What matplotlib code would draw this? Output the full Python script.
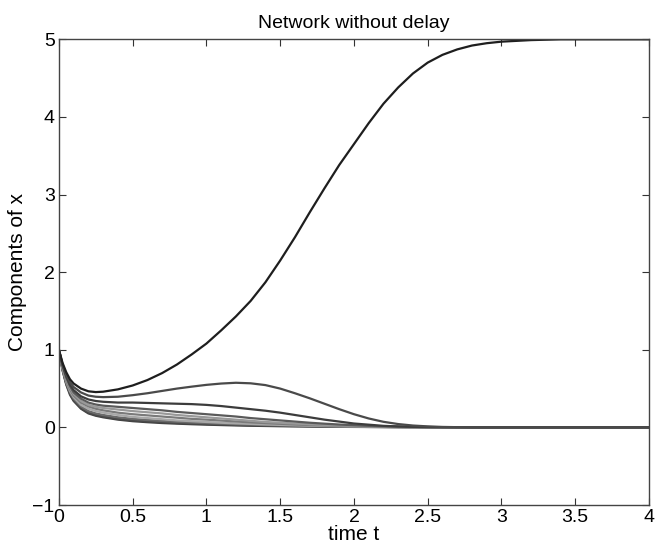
import numpy as np
import matplotlib.pyplot as plt

plt.rcParams['font.family'] = ['Liberation Sans', 'DejaVu Sans']

t = [0, 0.025, 0.05, 0.075, 0.1, 0.15, 0.2, 0.25, 0.3,
     0.4, 0.5, 0.6, 0.7, 0.8, 0.9, 1.0, 1.1, 1.2, 1.3, 1.4, 1.5, 1.6, 1.7, 1.8, 1.9,
     2.0, 2.1, 2.2, 2.3, 2.4, 2.5, 2.6, 2.7, 2.8, 2.9, 3.0,
     3.2, 3.4, 3.6, 3.8, 4.0]

x1 = [1.0, 0.83, 0.71, 0.62, 0.565, 0.50, 0.465, 0.455, 0.46,
      0.49, 0.54, 0.61, 0.70, 0.81, 0.94, 1.08, 1.25, 1.43, 1.63, 1.87, 2.15, 2.45, 2.77, 3.08, 3.38,
      3.65, 3.92, 4.17, 4.38, 4.56, 4.70, 4.80, 4.87, 4.92, 4.95, 4.97,
      4.99, 5.0, 5.0, 5.0, 5.0]
x2 = [1.0, 0.81, 0.68, 0.58, 0.52, 0.45, 0.41, 0.395, 0.39,
      0.395, 0.415, 0.44, 0.47, 0.50, 0.525, 0.548, 0.565, 0.575, 0.568, 0.545, 0.50, 0.44, 0.375, 0.305, 0.235,
      0.17, 0.115, 0.072, 0.043, 0.024, 0.013, 0.006, 0.003, 0.001, 0.0, 0.0,
      0.0, 0.0, 0.0, 0.0, 0.0]
x3 = [1.0, 0.80, 0.66, 0.55, 0.48, 0.40, 0.36, 0.34, 0.33,
      0.32, 0.32, 0.315, 0.31, 0.305, 0.30, 0.29, 0.275, 0.255, 0.235, 0.215, 0.19, 0.16, 0.13, 0.10, 0.075,
      0.05, 0.035, 0.02, 0.012, 0.007, 0.004, 0.002, 0.001, 0.0, 0.0, 0.0,
      0.0, 0.0, 0.0, 0.0, 0.0]
x4 = [1.0, 0.79, 0.64, 0.53, 0.45, 0.37, 0.32, 0.295, 0.28,
      0.265, 0.25, 0.235, 0.22, 0.20, 0.185, 0.17, 0.155, 0.14, 0.12, 0.105, 0.09, 0.075, 0.06, 0.048, 0.037,
      0.028, 0.02, 0.014, 0.01, 0.007, 0.005, 0.003, 0.002, 0.001, 0.0, 0.0,
      0.0, 0.0, 0.0, 0.0, 0.0]
x5 = [1.0, 0.78, 0.62, 0.51, 0.43, 0.34, 0.29, 0.265, 0.25,
      0.23, 0.21, 0.195, 0.18, 0.16, 0.145, 0.13, 0.115, 0.10, 0.085, 0.07, 0.06, 0.05, 0.04, 0.032, 0.025,
      0.02, 0.015, 0.011, 0.008, 0.006, 0.004, 0.003, 0.002, 0.001, 0.0, 0.0,
      0.0, 0.0, 0.0, 0.0, 0.0]
x6 = [1.0, 0.77, 0.60, 0.49, 0.41, 0.32, 0.27, 0.24, 0.22,
      0.19, 0.17, 0.155, 0.14, 0.125, 0.11, 0.10, 0.088, 0.076, 0.065, 0.055, 0.046, 0.038, 0.031, 0.025, 0.02,
      0.016, 0.012, 0.009, 0.007, 0.005, 0.004, 0.003, 0.002, 0.001, 0.0, 0.0,
      0.0, 0.0, 0.0, 0.0, 0.0]
x7 = [1.0, 0.76, 0.59, 0.47, 0.39, 0.29, 0.24, 0.21, 0.19,
      0.16, 0.135, 0.12, 0.105, 0.09, 0.08, 0.07, 0.06, 0.052, 0.045, 0.038, 0.032, 0.027, 0.022, 0.018, 0.015,
      0.012, 0.009, 0.007, 0.005, 0.004, 0.003, 0.002, 0.001, 0.001, 0.0, 0.0,
      0.0, 0.0, 0.0, 0.0, 0.0]
x8 = [1.0, 0.75, 0.57, 0.45, 0.37, 0.27, 0.21, 0.18, 0.16,
      0.13, 0.11, 0.095, 0.083, 0.072, 0.063, 0.055, 0.048, 0.041, 0.035, 0.03, 0.026, 0.022, 0.018, 0.015, 0.012,
      0.01, 0.008, 0.006, 0.004, 0.003, 0.002, 0.002, 0.001, 0.001, 0.0, 0.0,
      0.0, 0.0, 0.0, 0.0, 0.0]
x9 = [1.0, 0.74, 0.56, 0.44, 0.35, 0.25, 0.19, 0.16, 0.14,
      0.11, 0.09, 0.077, 0.066, 0.057, 0.05, 0.043, 0.037, 0.032, 0.027, 0.023, 0.02, 0.017, 0.014, 0.012, 0.01,
      0.008, 0.006, 0.005, 0.004, 0.003, 0.002, 0.001, 0.001, 0.001, 0.0, 0.0,
      0.0, 0.0, 0.0, 0.0, 0.0]
x10 = [1.0, 0.73, 0.55, 0.42, 0.34, 0.24, 0.18, 0.15, 0.13,
       0.10, 0.08, 0.067, 0.056, 0.048, 0.041, 0.035, 0.03, 0.025, 0.021, 0.018, 0.015, 0.013, 0.011, 0.009, 0.007,
       0.006, 0.005, 0.004, 0.003, 0.002, 0.001, 0.001, 0.001, 0.0, 0.0, 0.0,
       0.0, 0.0, 0.0, 0.0, 0.0]

series = [x10, x9, x8, x7, x6, x5, x4, x3, x2, x1]
colors = ["#404040", "#4a4a4a", "#6a6a6a", "#a8a8a8", "#7a7a7a",
          "#999999", "#5a5a5a", "#3c3c3c", "#4a4a4a", "#1e1e1e"]

fig = plt.figure(figsize=(6.67, 5.5), dpi=100)
ax = fig.add_axes([0.0883, 0.0818, 0.8847, 0.8467])

for y, c in zip(series, colors):
    ax.plot(t, y, color=c, lw=1.6)

ax.set_xlim(0, 4)
ax.set_ylim(-1, 5)
ax.set_xticks([0, 0.5, 1, 1.5, 2, 2.5, 3, 3.5, 4])
ax.set_xticklabels(["0", "0.5", "1", "1.5", "2", "2.5", "3", "3.5", "4"])
ax.set_yticks([-1, 0, 1, 2, 3, 4, 5])
ax.tick_params(direction="in", top=True, right=True, length=5, width=0.8,
               labelsize=14, color="#333333", pad=3)
for s in ax.spines.values():
    s.set_color("#444444")
    s.set_linewidth(1.0)

ax.set_xlabel("time t", fontsize=15, labelpad=-1)
ax.set_ylabel("Components of x", fontsize=15, labelpad=4)
ax.set_title("Network without delay", fontsize=14, pad=8)

fig.savefig("out.png", dpi=100)
